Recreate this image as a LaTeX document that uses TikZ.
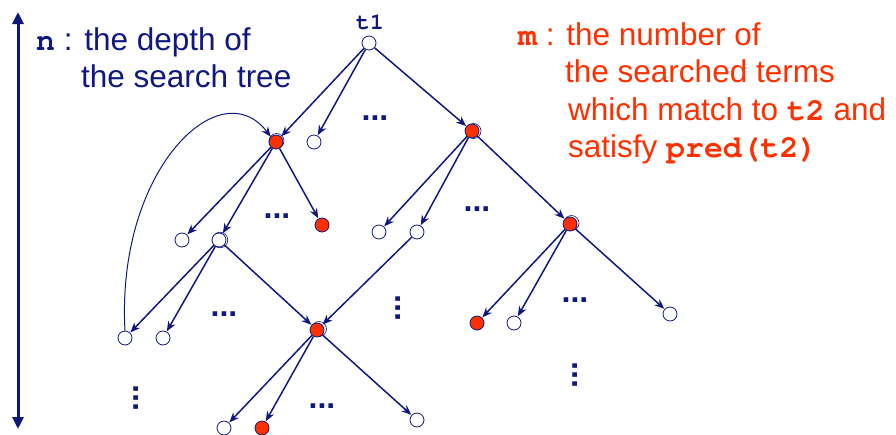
\documentclass[tikz,border=0pt]{standalone}
\usepackage{fontspec}
\setmainfont{Liberation Sans}
\setmonofont{TeX Gyre Cursor}
\usetikzlibrary{arrows.meta}
\definecolor{navy}{RGB}{16,24,128}
\definecolor{hot}{RGB}{255,48,0}
\begin{document}
\begin{tikzpicture}[x=1pt,y=-1pt,
  wn/.style={circle,draw=navy,fill=white,line width=0.8pt,minimum size=14pt,inner sep=0pt},
  rn/.style={circle,draw=navy,fill=hot,line width=0.8pt,minimum size=14pt,inner sep=0pt},
  ed/.style={draw=navy,line width=1.5pt,-{Stealth[length=10pt,width=8pt]},shorten >=0.3pt},
  hdots/.style={text=navy,font=\fontsize{32}{32}\selectfont\bfseries,inner sep=0pt,anchor=base},
  vdots/.style={text=navy,font=\fontsize{32}{32}\selectfont\bfseries,inner sep=0pt,anchor=base,rotate=90},
  bluetext/.style={text=navy,font=\fontsize{31.5}{31.5}\selectfont,inner sep=0pt,anchor=base west},
  redtext/.style={text=hot,font=\fontsize{31.5}{31.5}\selectfont,inner sep=0pt,anchor=base west},
  ring/.style={draw=navy,line width=0.6pt}
]
\useasboundingbox (0,0) rectangle (896,434);

% depth arrow
\coordinate (top) at (18,12);
\coordinate (bot) at (18,429);
\draw[navy,line width=3pt,{Triangle[length=12pt,width=11pt]}-{Triangle[length=12pt,width=11pt]}] (top) -- (bot);

% texts
\node[bluetext] (n1) at (36,50) {{\ttfamily\bfseries n} : the depth of};
\node[bluetext] (n2) at (81,87) {the search tree};
\node[redtext] (m1) at (518,45) {{\ttfamily\bfseries m} : the number of};
\node[redtext] (m2) at (565,82) {the searched terms};
\node[redtext] (m3) at (568,120) {which match to {\ttfamily\bfseries t2} and};
\node[redtext] (m4) at (568,157) {satisfy {\ttfamily\bfseries pred(t2)}};
\node[text=navy,font=\fontsize{23}{23}\selectfont\ttfamily\bfseries,inner sep=0pt,anchor=base] (t1) at (370,29) {t1};

% decoration rings (slightly offset double outlines)
\draw[ring] (473.5,131) circle (7.5pt);
\draw[ring] (571.5,223) circle (7.5pt);
\draw[ring] (319,329) circle (7.5pt);
\draw[ring] (220,240) circle (7.8pt);
\draw[ring] (276.5,141) circle (7.5pt);

% nodes
\node[wn] (r)  at (369,43) {};
\node[rn] (A)  at (276,142) {};
\node[wn] (B)  at (314,142) {};
\node[rn] (C)  at (472,131) {};
\node[wn] (a1) at (182,240) {};
\node[wn] (a2) at (219,240) {};
\node[rn] (a3) at (322,225) {};
\node[wn] (c1) at (379,232) {};
\node[wn] (c2) at (417,232) {};
\node[rn] (c3) at (570,224) {};
\node[wn] (d1) at (125,338) {};
\node[wn] (d2) at (163,338) {};
\node[rn] (X)  at (317,330) {};
\node[rn] (e1) at (477,323) {};
\node[wn] (e2) at (514,323) {};
\node[wn] (e3) at (670,314) {};
\node[wn] (f1) at (224,428) {};
\node[rn] (f2) at (262,428) {};
\node[wn] (f3) at (417,420) {};

% edges
\draw[ed] (r) -- (A);
\draw[ed] (r) -- (B);
\draw[ed] (r) -- (C);
\draw[ed] (A) -- (a1);
\draw[ed] (A) -- (a2);
\draw[ed] (A) -- (a3);
\draw[ed] (C) -- (c1);
\draw[ed] (C) -- (c2);
\draw[ed] (C) -- (c3);
\draw[ed] (a2) -- (d1);
\draw[ed] (a2) -- (d2);
\draw[ed] (a2) -- (X);
\draw[ed] (c2) -- (X);
\draw[ed] (c3) -- (e1);
\draw[ed] (c3) -- (e2);
\draw[ed] (c3) -- (e3);
\draw[ed] (X) -- (f1);
\draw[ed] (X) -- (f2);
\draw[ed] (X) -- (f3);
\draw[draw=navy,line width=1pt,-{Stealth[length=10pt,width=8pt]}] (d1.north) .. controls (116,170) and (220,70) .. (A.north west);

% dots
\node[hdots] (h1) at (375,120) {...};
\node[hdots] (h2) at (277,218) {...};
\node[hdots] (h3) at (477,211) {...};
\node[hdots] (h4) at (224,316) {...};
\node[hdots] (h5) at (575,302) {...};
\node[hdots] (h6) at (322,408) {...};
\node[vdots] (v1) at (400,308) {...};
\node[vdots] (v2) at (138,398) {...};
\node[vdots] (v3) at (577,375) {...};
\end{tikzpicture}
\end{document}
